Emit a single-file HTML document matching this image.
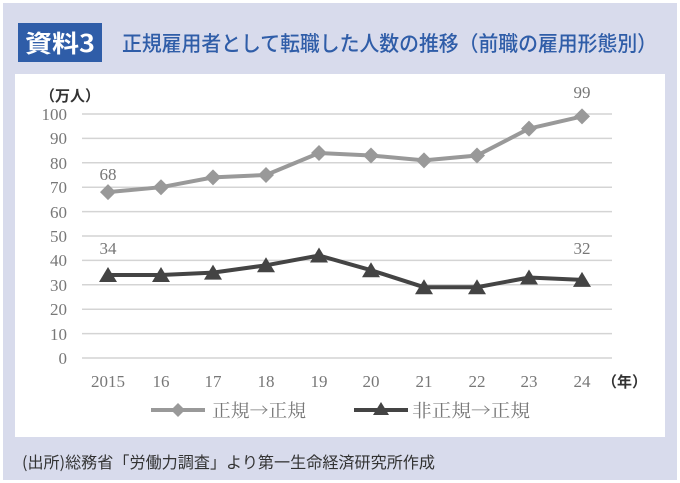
<!DOCTYPE html>
<html><head><meta charset="utf-8"><style>
body{margin:0;width:680px;height:483px;overflow:hidden;background:#fff;font-family:"Liberation Sans","Noto Sans CJK JP",sans-serif}
.bg{position:absolute;left:3px;top:3px;width:674px;height:477px;background:#d8dbec}
</style></head><body>
<div class="bg"></div>
<svg width="680" height="483" style="position:absolute;left:0;top:0">
<rect x="18" y="23" width="84" height="39" fill="#2f5da8"/>
<text x="60" y="52" font-size="24" font-weight="bold" fill="#fff" text-anchor="middle" font-family="Noto Sans CJK JP,sans-serif" textLength="70" lengthAdjust="spacingAndGlyphs">資料3</text>
<text x="122" y="51" font-size="21" font-weight="500" fill="#2f5da8" font-family="Noto Sans CJK JP,sans-serif" textLength="535" lengthAdjust="spacingAndGlyphs">正規雇用者として転職した人数の推移（前職の雇用形態別）</text>
<rect x="15" y="74" width="650" height="363" fill="#fff"/>
<g stroke="#d4d4d4" stroke-width="1.5">
<line x1="82" x2="612" y1="114" y2="114"/><line x1="82" x2="612" y1="138.4" y2="138.4"/><line x1="82" x2="612" y1="162.8" y2="162.8"/><line x1="82" x2="612" y1="187.2" y2="187.2"/><line x1="82" x2="612" y1="211.6" y2="211.6"/><line x1="82" x2="612" y1="236" y2="236"/><line x1="82" x2="612" y1="260.4" y2="260.4"/><line x1="82" x2="612" y1="284.8" y2="284.8"/><line x1="82" x2="612" y1="309.2" y2="309.2"/><line x1="82" x2="612" y1="333.6" y2="333.6"/><line x1="82" x2="612" y1="358" y2="358"/>
</g>
<g font-family="Liberation Serif,serif" font-size="17" fill="#777" text-anchor="end">
<text x="67" y="120">100</text><text x="67" y="144">90</text><text x="67" y="169">80</text><text x="67" y="193">70</text><text x="67" y="218">60</text><text x="67" y="242">50</text><text x="67" y="266">40</text><text x="67" y="291">30</text><text x="67" y="315">20</text><text x="67" y="340">10</text><text x="67" y="364">0</text>
</g>
<text x="40" y="101" font-size="15" font-weight="bold" fill="#333" font-family="Noto Sans CJK JP,sans-serif">（万人）</text>
<g font-family="Liberation Serif,serif" font-size="17" fill="#777" text-anchor="middle">
<text x="108" y="387">2015</text><text x="161" y="387">16</text><text x="213" y="387">17</text><text x="266" y="387">18</text><text x="319" y="387">19</text><text x="371" y="387">20</text><text x="424" y="387">21</text><text x="477" y="387">22</text><text x="529" y="387">23</text><text x="582" y="387">24</text>
<text x="108" y="180">68</text><text x="108" y="254">34</text><text x="582" y="98">99</text><text x="582" y="254">32</text>
</g>
<text x="602" y="387" font-size="15" font-weight="bold" fill="#333" font-family="Noto Sans CJK JP,sans-serif">（年）</text>
<polyline fill="none" stroke="#999" stroke-width="4" points="108,192.1 161,187.2 213,177.4 266,175 319,153 371,155.5 424,160.4 477,155.5 529,128.6 582,116.4"/>
<g fill="#999">
<path d="M108,184.1l8,8-8,8-8-8z"/><path d="M161,179.2l8,8-8,8-8-8z"/><path d="M213,169.4l8,8-8,8-8-8z"/><path d="M266,167l8,8-8,8-8-8z"/><path d="M319,145l8,8-8,8-8-8z"/><path d="M371,147.5l8,8-8,8-8-8z"/><path d="M424,152.4l8,8-8,8-8-8z"/><path d="M477,147.5l8,8-8,8-8-8z"/><path d="M529,120.6l8,8-8,8-8-8z"/><path d="M582,108.4l8,8-8,8-8-8z"/>
</g>
<polyline fill="none" stroke="#444" stroke-width="4" points="108,275 161,275 213,272.6 266,265.3 319,255.5 371,270.2 424,287.2 477,287.2 529,277.5 582,279.9"/>
<g fill="#444">
<path d="M108,267l-9,15h18z"/><path d="M161,267l-9,15h18z"/><path d="M213,264.6l-9,15h18z"/><path d="M266,257.3l-9,15h18z"/><path d="M319,247.5l-9,15h18z"/><path d="M371,262.2l-9,15h18z"/><path d="M424,279.2l-9,15h18z"/><path d="M477,279.2l-9,15h18z"/><path d="M529,269.5l-9,15h18z"/><path d="M582,271.9l-9,15h18z"/>
</g>
<line x1="151" x2="205" y1="410" y2="410" stroke="#999" stroke-width="4"/><path d="M178,403l7,7-7,7-7-7z" fill="#999"/>
<text x="212" y="417" font-size="18" fill="#777" font-family="Noto Serif CJK SC,serif" textLength="94" lengthAdjust="spacingAndGlyphs">正規→正規</text>
<line x1="354" x2="408" y1="410" y2="410" stroke="#444" stroke-width="4"/><path d="M381,402l-8,13h16z" fill="#444"/>
<text x="412" y="417" font-size="18" fill="#777" font-family="Noto Serif CJK SC,serif" textLength="118" lengthAdjust="spacingAndGlyphs">非正規→正規</text>
<text x="22" y="468" font-size="16" fill="#333" font-family="Noto Sans CJK JP,sans-serif" textLength="413" lengthAdjust="spacingAndGlyphs">(出所)総務省「労働力調査」より第一生命経済研究所作成</text>
</svg>
</body></html>
